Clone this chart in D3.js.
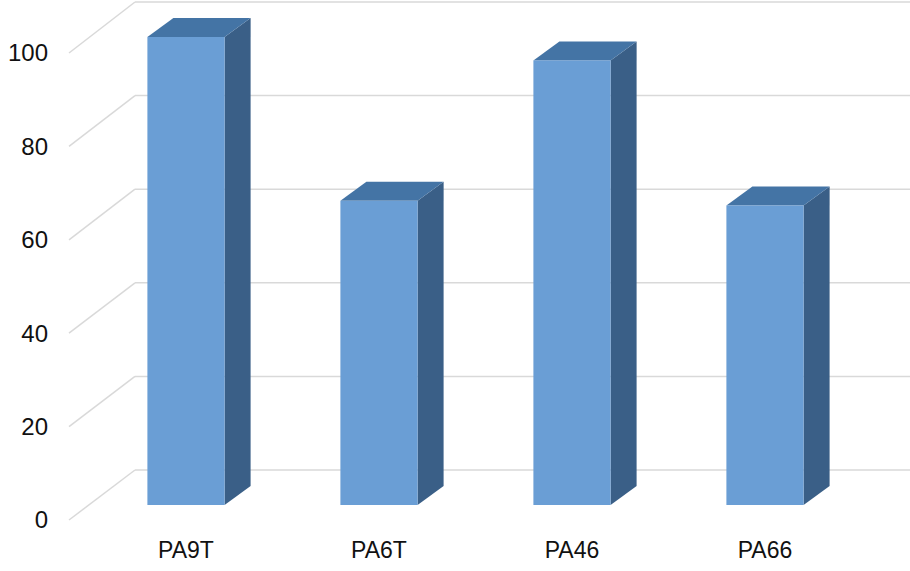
<!DOCTYPE html>
<html><head><meta charset="utf-8">
<script src="https://cdn.jsdelivr.net/npm/d3@7"></script>
<style>body{margin:0;background:#fff}text{font-family:"Liberation Sans",Arial,sans-serif}</style>
</head><body><svg id="c" width="910" height="571"></svg>
<script>
const categories = ["PA9T","PA6T","PA46","PA66"];
const values = [100, 65, 95, 64];
const yTicks = [0,20,40,60,80,100];

const svg = d3.select("#c");
const yBack = d3.scaleLinear().domain([0,100]).range([470,2]);
const yFront = d3.scaleLinear().domain([0,100]).range([520,53]);
const yBar = d3.scaleLinear().domain([0,100]).range([505,37]);
const x = d3.scaleBand().domain(categories).range([89.5,861.5]).paddingInner(0.6).paddingOuter(0.3);
const dx = 26, dy = -19;

const g = svg.append("g");
yTicks.forEach(t => {
  g.append("line").attr("x1",135).attr("x2",910).attr("y1",yBack(t)).attr("y2",yBack(t))
    .attr("stroke","#d9d9d9").attr("stroke-width",1.5);
  g.append("line").attr("x1",69).attr("y1",yFront(t)).attr("x2",135).attr("y2",yBack(t))
    .attr("stroke","#d9d9d9").attr("stroke-width",1.5);
  g.append("text").attr("x",48).attr("y",yFront(t)).attr("dy","0.35em").attr("text-anchor","end")
    .attr("font-size",24).attr("fill","#111").text(t);
});

categories.forEach((c,i) => {
  const x0 = x(c), w = x.bandwidth(), y0 = yBar(0), y1 = yBar(values[i]);
  const bg = svg.append("g");
  bg.append("path").attr("d",`M${x0+w},${y1}L${x0+w+dx},${y1+dy}L${x0+w+dx},${y0+dy}L${x0+w},${y0}Z`).attr("fill","#3a5f87");
  bg.append("path").attr("d",`M${x0},${y1}L${x0+dx},${y1+dy}L${x0+w+dx},${y1+dy}L${x0+w},${y1}Z`).attr("fill","#4474a5");
  bg.append("rect").attr("x",x0).attr("y",y1).attr("width",w).attr("height",y0-y1).attr("fill","#6a9ed5");
  svg.append("text").attr("x",x0+w/2).attr("y",550).attr("dy","0.35em").attr("text-anchor","middle")
    .attr("font-size",23).attr("fill","#111").text(c);
});
</script></body></html>
